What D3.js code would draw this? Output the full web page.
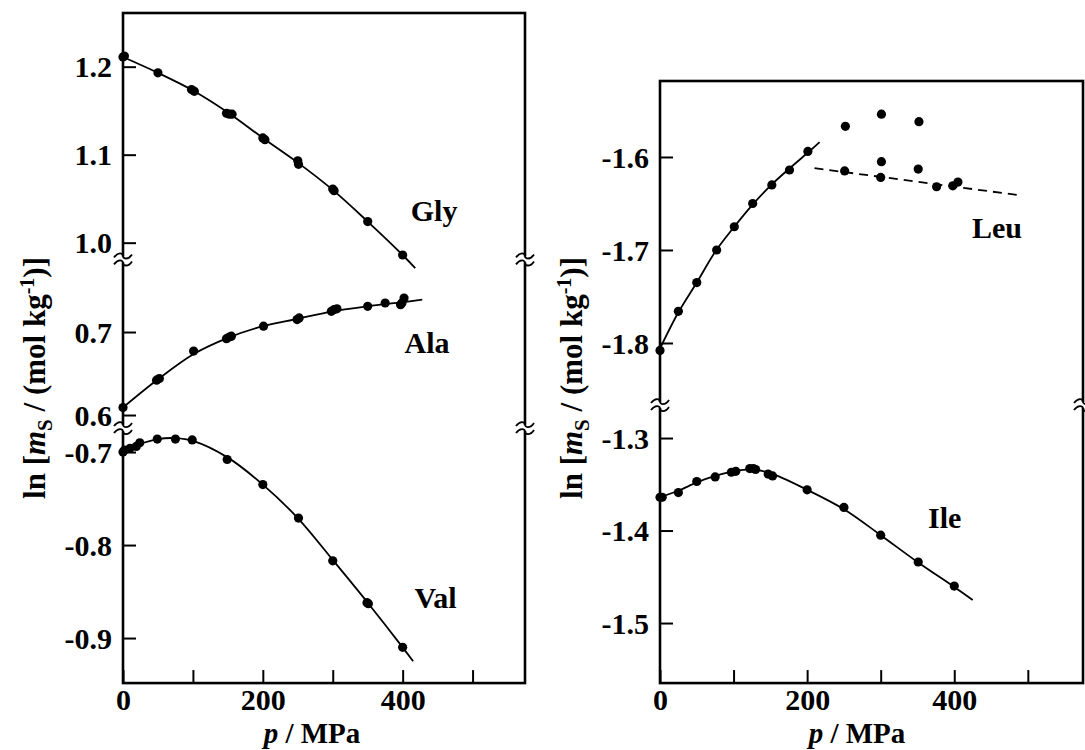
<!DOCTYPE html>
<html>
<head>
<meta charset="utf-8">
<script src="https://cdn.jsdelivr.net/npm/d3@7"></script>
<style>
  body { margin: 0; background: #fff; }
  svg text { font-family: "Liberation Serif", "Times New Roman", serif; font-weight: bold; fill: #000; }
</style>
</head>
<body>
<div id="chart"></div>
<script>
// ---- data (p in MPa, value = ln[mS / (mol kg-1)]) ----
const xTicks = [0, 100, 200, 300, 400, 500];
const xTickLabels = ["0", "", "200", "", "400", ""];

const glyP = [0, 2, 50, 98, 102, 148, 152, 156, 200, 203, 250, 251, 300, 302, 350, 400];
const glyLn = [1.211, 1.212, 1.193, 1.174, 1.172, 1.147, 1.146, 1.146, 1.119, 1.117, 1.093, 1.089, 1.061, 1.059, 1.024, 0.986];
const glyFitP = [0, 50, 100, 150, 200, 250, 300, 350, 400, 418];
const glyFitLn = [1.211, 1.193, 1.173, 1.148, 1.119, 1.091, 1.060, 1.024, 0.986, 0.971];

const alaP = [0, 48, 52, 101, 148, 152, 155, 201, 249, 252, 298, 302, 306, 350, 375, 397, 399, 402];
const alaLn = [0.609, 0.642, 0.644, 0.677, 0.692, 0.694, 0.695, 0.707, 0.715, 0.717, 0.725, 0.727, 0.728, 0.731, 0.735, 0.733, 0.735, 0.741];
const alaFitP = [0, 50, 100, 150, 200, 250, 300, 350, 400, 428];
const alaFitLn = [0.609, 0.643, 0.673, 0.693, 0.707, 0.716, 0.725, 0.731, 0.736, 0.739];

const valP = [0, 2, 10, 19, 24, 49, 75, 99, 149, 200, 251, 300, 349, 351, 400];
const valLn = [-0.700, -0.698, -0.696, -0.694, -0.690, -0.686, -0.686, -0.687, -0.708, -0.735, -0.771, -0.817, -0.862, -0.863, -0.910];
const valFitP = [0, 25, 50, 75, 100, 150, 200, 250, 300, 350, 400, 415];
const valFitLn = [-0.697, -0.691, -0.686, -0.685, -0.688, -0.706, -0.735, -0.771, -0.816, -0.862, -0.910, -0.925];

const leuP = [0, 25, 50, 77, 101, 126, 152, 176, 201, 252, 301, 352, 301, 351, 251, 300, 376, 398, 405];
const leuLn = [-1.808, -1.766, -1.735, -1.700, -1.675, -1.650, -1.630, -1.614, -1.594, -1.567, -1.554, -1.562, -1.605, -1.613, -1.615, -1.622, -1.632, -1.631, -1.627];
const leuFitP = [0, 25, 50, 75, 100, 125, 150, 175, 200, 217];
const leuFitLn = [-1.806, -1.767, -1.735, -1.702, -1.676, -1.652, -1.631, -1.613, -1.596, -1.584];
const leuDashP = [210, 487];
const leuDashLn = [-1.612, -1.641];

const ileP = [0, 3, 25, 50, 75, 97, 103, 122, 127, 130, 147, 153, 200, 250, 300, 351, 400];
const ileLn = [-1.364, -1.364, -1.359, -1.347, -1.342, -1.337, -1.336, -1.333, -1.333, -1.334, -1.339, -1.341, -1.356, -1.375, -1.405, -1.434, -1.460];
const ileFitP = [0, 25, 50, 75, 100, 125, 150, 200, 250, 300, 350, 400, 425];
const ileFitLn = [-1.364, -1.357, -1.348, -1.341, -1.336, -1.334, -1.338, -1.356, -1.377, -1.405, -1.434, -1.461, -1.475];

const zip = (a, b) => a.map((d, i) => [d, b[i]]);

class BrokenAxisPanel {
  /**
   * Panel with one x scale and several stacked y segments separated by axis breaks
   */
  constructor(_config, _segments) {
    this.config = {
      svg: _config.svg,
      left: _config.left,
      top: _config.top,
      width: _config.width,
      xDomain: _config.xDomain || [0, 575],
      titleX: _config.titleX,
      titleY: _config.titleY || 378,
      xTitleX: _config.xTitleX,
    };
    this.segments = _segments;
    this.initVis();
  }

  initVis() {
    let vis = this;
    const cfg = vis.config;

    vis.chart = cfg.svg.append("g").attr("transform", `translate(${cfg.left},${cfg.top})`);
    vis.xScale = d3.scaleLinear().domain(cfg.xDomain).range([0, cfg.width]);

    // Stack the y segments from the top of the frame
    let y0 = 0;
    vis.segments.forEach((s) => {
      const h = (s.domain[1] - s.domain[0]) * s.pxPerUnit;
      s.yScale = d3.scaleLinear().domain(s.domain).range([y0 + h, y0]);
      s.y1 = y0 + h;
      y0 += h;
    });
    vis.height = y0;

    vis.renderVis();
  }

  renderVis() {
    let vis = this;
    const cfg = vis.config;
    const fmt = (d) => d3.format(".1f")(d).replace("\u2212", "-");

    // Frame
    vis.chart.append("rect")
      .attr("width", cfg.width).attr("height", vis.height)
      .attr("fill", "none").attr("stroke", "#000").attr("stroke-width", 2.6);

    // Y ticks per segment
    vis.segments.forEach((s) => {
      const axis = d3.axisLeft(s.yScale)
        .tickValues(s.ticks).tickFormat(fmt)
        .tickSizeInner(-13).tickSizeOuter(0).tickPadding(11);
      const g = vis.chart.append("g").call(axis);
      g.select(".domain").remove();
      g.selectAll(".tick line").attr("stroke-width", 2);
      g.selectAll(".tick text").attr("font-size", 30).attr("dy", "0.34em")
        .style("font-family", '"Liberation Serif", serif');
    });

    // X axis
    const xAxis = d3.axisBottom(vis.xScale)
      .tickValues(xTicks).tickFormat((d, i) => xTickLabels[i])
      .tickSizeInner(-13).tickSizeOuter(0).tickPadding(6);
    const xg = vis.chart.append("g").attr("transform", `translate(0,${vis.height})`).call(xAxis);
    xg.select(".domain").remove();
    xg.selectAll(".tick line").attr("stroke-width", 2);
    xg.selectAll(".tick text").attr("font-size", 30)
      .style("font-family", '"Liberation Serif", serif');

    // Series: fitted curves, dashed lines, points and names
    const line = (s) => d3.line()
      .x((d) => vis.xScale(d[0]))
      .y((d) => s.yScale(d[1]))
      .curve(d3.curveCatmullRom.alpha(0.5));

    vis.segments.forEach((s) => {
      vis.chart.append("path")
        .attr("d", line(s)(s.fit))
        .attr("fill", "none").attr("stroke", "#000").attr("stroke-width", 1.8);

      if (s.dash) {
        vis.chart.append("path")
          .attr("d", line(s).curve(d3.curveLinear)(s.dash))
          .attr("fill", "none").attr("stroke", "#000").attr("stroke-width", 1.8)
          .attr("stroke-dasharray", "9,6");
      }

      vis.chart.append("g").selectAll("circle")
        .data(s.points)
        .join("circle")
        .attr("cx", (d) => vis.xScale(d[0]))
        .attr("cy", (d) => s.yScale(d[1]))
        .attr("r", 4.6)
        .attr("fill", "#000");

      vis.chart.append("text")
        .attr("x", vis.xScale(s.labelAt[0]))
        .attr("y", s.yScale(s.labelAt[1]))
        .attr("text-anchor", "middle")
        .attr("font-size", 30)
        .text(s.name);
    });

    // Axis breaks on both sides of the frame
    vis.segments.slice(0, -1).forEach((s) => {
      [0, cfg.width].forEach((x) => {
        const b = vis.chart.append("g").attr("transform", `translate(${x},${s.y1})`);
        b.append("rect").attr("x", -4).attr("y", -3).attr("width", 8).attr("height", 6).attr("fill", "#fff");
        [-3.5, 3.5].forEach((dy) => {
          b.append("path")
            .attr("d", `M-9,${dy + 1.5} C-5,${dy - 4} 0,${dy - 3} 0,${dy} S5,${dy + 4.5} 9,${dy - 1.5}`)
            .attr("fill", "none").attr("stroke", "#000").attr("stroke-width", 1.8);
        });
      });
    });

    // Axis titles
    const yt = vis.chart.append("text")
      .attr("transform", `translate(${cfg.titleX - cfg.left},${cfg.titleY - cfg.top}) rotate(-90)`)
      .attr("text-anchor", "middle")
      .attr("font-size", 31);
    yt.append("tspan").text("ln [");
    yt.append("tspan").attr("font-style", "italic").text("m");
    yt.append("tspan").attr("font-size", 21).attr("dy", 7).text("S");
    yt.append("tspan").attr("dy", -7).text(" / (mol kg");
    yt.append("tspan").attr("font-size", 20).attr("dy", -11).text("-1");
    yt.append("tspan").attr("dy", 11).text(")]");

    const xt = vis.chart.append("text")
      .attr("x", cfg.xTitleX - cfg.left)
      .attr("y", 743 - cfg.top)
      .attr("text-anchor", "middle")
      .attr("font-size", 29);
    xt.append("tspan").attr("font-style", "italic").text("p");
    xt.append("tspan").text(" / MPa");
  }
}

const svg = d3.select("#chart").append("svg").attr("width", 1085).attr("height", 750);

new BrokenAxisPanel(
  { svg: svg, left: 123, top: 13, width: 402, titleX: 45, xTitleX: 312 },
  [
    { name: "Gly", domain: [0.981, 1.261], pxPerUnit: 880, ticks: [1.0, 1.1, 1.2], points: zip(glyP, glyLn), fit: zip(glyFitP, glyFitLn), labelAt: [445, 1.025] },
    { name: "Ala", domain: [0.5843, 0.7875], pxPerUnit: 830, ticks: [0.6, 0.7], points: zip(alaP, alaLn), fit: zip(alaFitP, alaFitLn), labelAt: [435, 0.6747] },
    { name: "Val", domain: [-0.9484, -0.6742], pxPerUnit: 930, ticks: [-0.9, -0.8, -0.7], points: zip(valP, valLn), fit: zip(valFitP, valFitLn), labelAt: [447, -0.8677] },
  ]
);

new BrokenAxisPanel(
  { svg: svg, left: 660, top: 81, width: 423, titleX: 582, xTitleX: 857 },
  [
    { name: "Leu", domain: [-1.8667, -1.5183], pxPerUnit: 930, ticks: [-1.8, -1.7, -1.6], points: zip(leuP, leuLn), fit: zip(leuFitP, leuFitLn), dash: zip(leuDashP, leuDashLn), labelAt: [458, -1.687] },
    { name: "Ile", domain: [-1.5649, -1.2643], pxPerUnit: 925, ticks: [-1.5, -1.4, -1.3], points: zip(ileP, ileLn), fit: zip(ileFitP, ileFitLn), labelAt: [387, -1.3973] },
  ]
);
</script>
</body>
</html>
